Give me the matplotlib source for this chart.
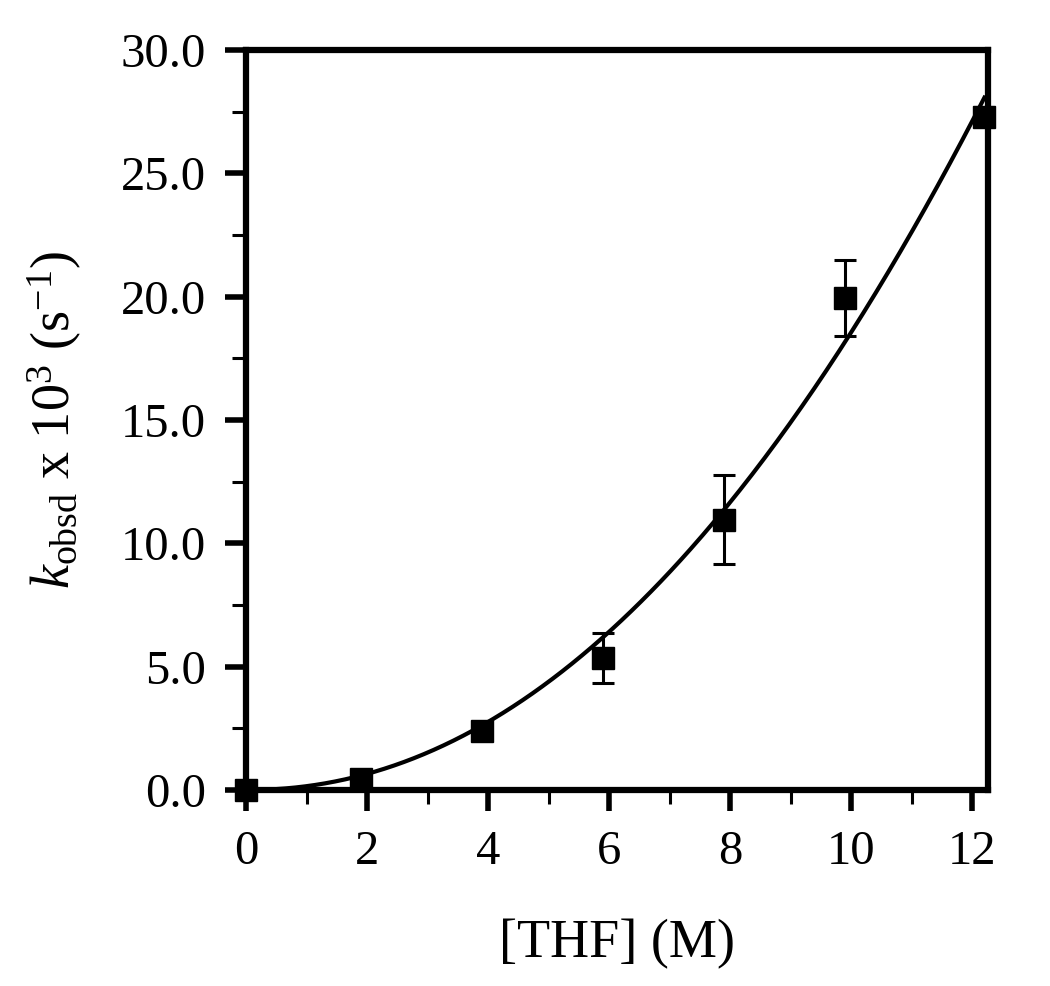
import numpy as np
import matplotlib
matplotlib.use("Agg")
import matplotlib.pyplot as plt
from matplotlib.ticker import MultipleLocator, FormatStrFormatter

# data
thf = [0.0, 1.9, 3.9, 5.9, 7.9, 9.9, 12.2]
kobs = [0.0, 0.45, 2.4, 5.35, 10.95, 19.95, 27.3]
kerr = [0.0, 0.0, 0.0, 1.0, 1.8, 1.55, 0.4]

plt.rcParams["font.family"] = ["Liberation Serif", "DejaVu Serif"]
plt.rcParams["mathtext.fontset"] = "custom"
plt.rcParams["mathtext.rm"] = "Liberation Serif"
plt.rcParams["mathtext.it"] = "Liberation Serif:italic"

# power-law fit k = a * x^n through the points (least squares over n)
xd = np.array(thf[1:])
yd = np.array(kobs[1:])
best = None
for n in np.linspace(1.5, 3.0, 301):
    xn = xd ** n
    a = (xn @ yd) / (xn @ xn)
    r = np.sum((yd - a * xn) ** 2)
    if best is None or r < best[0]:
        best = (r, a, n)
_, a_fit, n_fit = best
xf = np.linspace(0, 12.2, 300)
yf = a_fit * xf ** n_fit

fig = plt.figure(figsize=(10.5, 9.86), dpi=100)
ax = fig.add_axes([0.2343, 0.1988, 0.7067, 0.7505])

ax.plot(xf, yf, color="black", lw=3.0, zorder=2)
ax.errorbar(thf, kobs, yerr=kerr, fmt="s", color="black", ms=16,
            ecolor="black", elinewidth=2.2, capsize=8, capthick=2.2,
            clip_on=False, zorder=3)

ax.set_xlim(0, 12.26)
ax.set_ylim(0, 30)
ax.xaxis.set_major_locator(MultipleLocator(2))
ax.xaxis.set_minor_locator(MultipleLocator(1))
ax.yaxis.set_major_locator(MultipleLocator(5))
ax.yaxis.set_minor_locator(MultipleLocator(2.5))
ax.yaxis.set_major_formatter(FormatStrFormatter("%.1f"))

for s in ax.spines.values():
    s.set_linewidth(4.5)
ax.tick_params(which="major", direction="out", length=15, width=4,
               labelsize=35, pad=14, top=False, right=False)
ax.tick_params(which="minor", direction="out", length=10, width=2.2,
               top=False, right=False)

ax.set_xlabel("[THF] (M)", fontsize=39, labelpad=32)
ax.set_ylabel(r"$k_{\mathrm{obsd}}$ x 10$^{3}$ (s$^{-1}$)", fontsize=39,
              labelpad=26)

fig.savefig("out.png", dpi=100)
